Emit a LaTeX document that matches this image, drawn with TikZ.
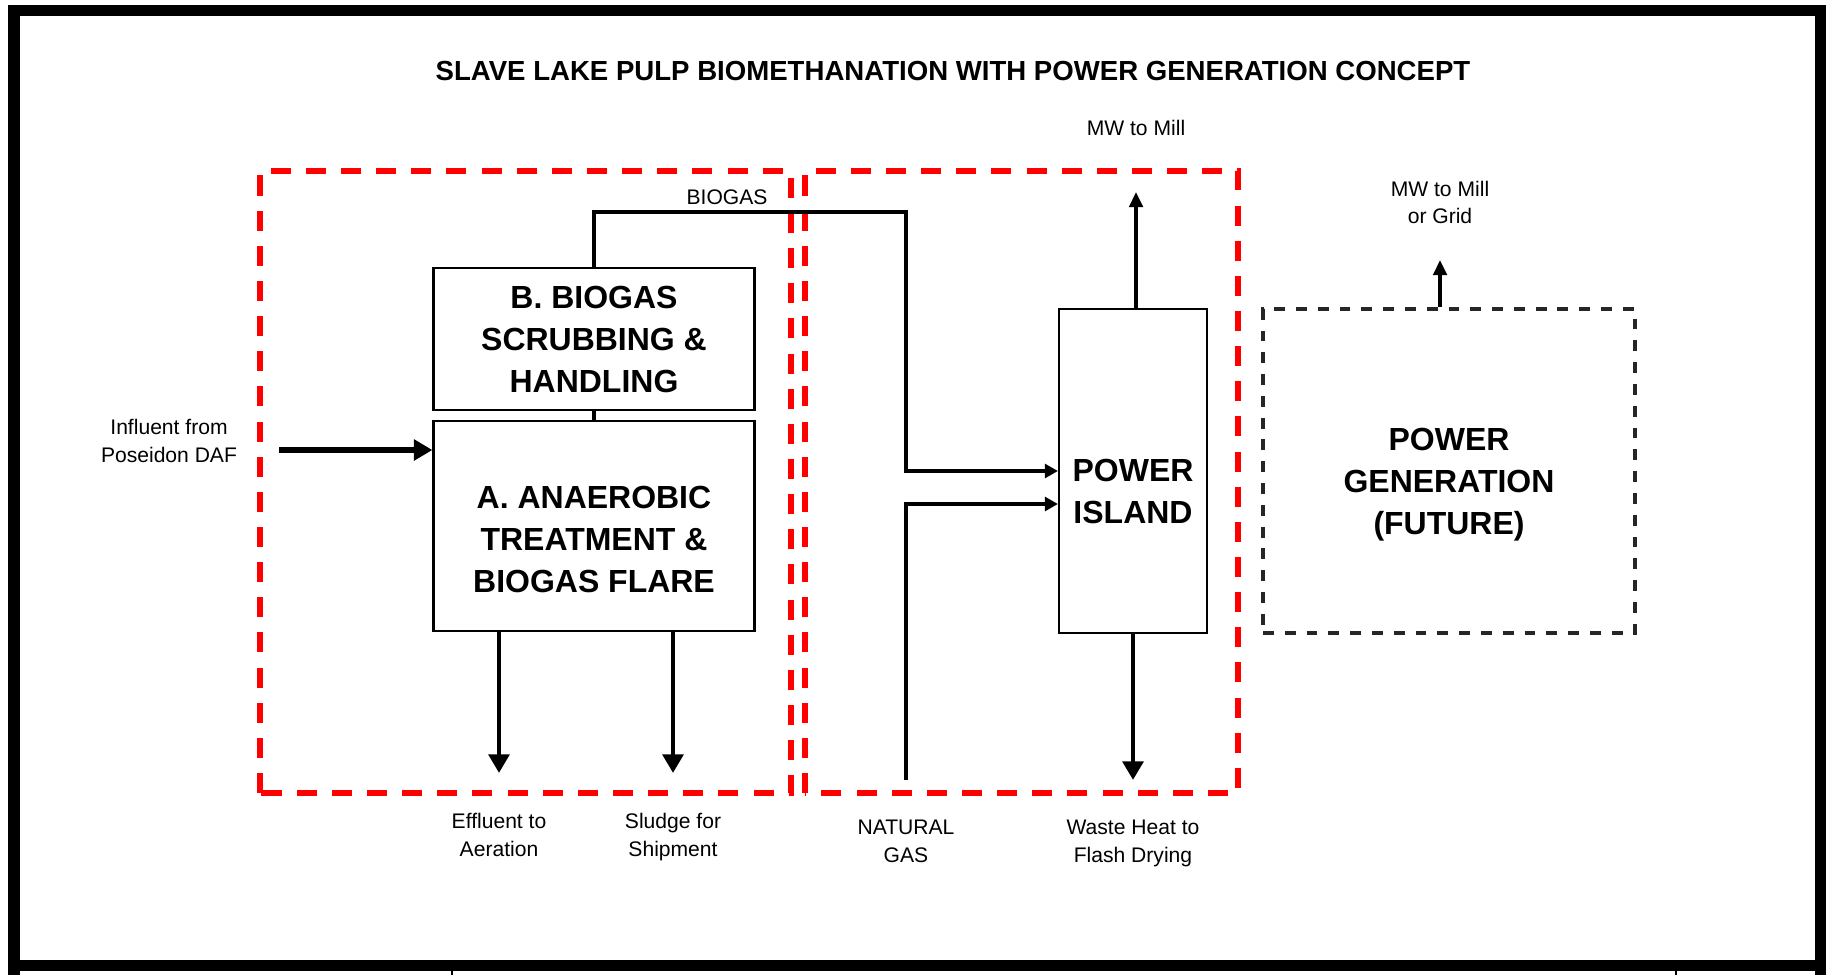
\documentclass[tikz,border=0pt]{standalone}
\usepackage{fontspec}
\setmainfont{Liberation Sans}
\usetikzlibrary{arrows.meta, positioning}

\begin{document}
\begin{tikzpicture}[
    >=Triangle, % Default arrow tip
    frame/.style={line width=0.11cm}, % Style for the sheet border
    zone/.style={red, line width=1.8pt, dash pattern=on 5.7pt off 4.3pt}, % Style for the red scope boundaries
    future/.style={draw=black!85, line width=1.3pt, dash pattern=on 3.1pt off 3.1pt, minimum width=3.72cm, minimum height=3.24cm}, % Style for the future box
    unit/.style={draw, line width=0.6pt, inner sep=0pt}, % Style for process blocks
    unittext/.style={align=center, font=\fontsize{9.1}{11.95}\selectfont\bfseries}, % Style for block texts
    lbl/.style={align=center, font=\fontsize{6}{7.8}\selectfont}, % Style for stream labels
    flow/.style={-{Triangle[length=5.3pt, width=5.8pt]}, line width=1.4pt}, % Style for main streams
    feed/.style={-{Triangle[length=3.7pt, width=3.9pt]}, line width=1.15pt}, % Style for gas feeds
    power/.style={-{Triangle[length=4.3pt, width=3.8pt]}, line width=1.3pt} % Style for power export
]
    \useasboundingbox (0,0) rectangle (18.27,9.75);

    % --- Sheet border ---
    \draw[frame] (0.14,0.095) rectangle (18.20,9.645);
    \draw[frame] (0.14,0.095) -- (0.14,0);
    \draw[frame] (18.20,0.095) -- (18.20,0);
    \draw[line width=0.6pt] (4.52,0.05) -- (4.52,0);
    \draw[line width=0.6pt] (16.76,0.05) -- (16.76,0);

    \node[font=\fontsize{7.85}{9}\selectfont\bfseries] (title) at (9.53,9.04)
        {SLAVE LAKE PULP BIOMETHANATION WITH POWER GENERATION CONCEPT};

    % --- Scope boundaries ---
    \draw[zone] (2.60,1.82) rectangle (7.91,8.04);
    \draw[zone] (8.05,1.82) rectangle (12.38,8.04);

    % --- Blocks ---
    \node[unit, minimum width=3.21cm, minimum height=1.42cm, unittext] (scrub) at (5.94,6.36)
        {B. BIOGAS\\SCRUBBING \&\\HANDLING};
    \node[unit, minimum width=3.21cm, minimum height=2.10cm] (anaer) at (5.94,4.49) {};
    \node[unittext] (anaertxt) at ([yshift=-0.13cm]anaer.center) {A. ANAEROBIC\\TREATMENT \&\\BIOGAS FLARE};

    \node[unit, minimum width=1.48cm, minimum height=3.24cm] (isl) at (11.33,5.04) {};
    \node[unittext] (isltxt) at ([yshift=-0.2cm]isl.center) {POWER\\ISLAND};

    \node[future] (fut) at (14.49,5.04) {};
    \node[unittext] (futtxt) at ([yshift=-0.14cm]fut.center) {POWER\\GENERATION\\(FUTURE)};

    % Free ends of the streams
    \coordinate (infl) at (2.79,5.25);
    \coordinate (effl) at (4.99,2.02);
    \coordinate (sldg) at (6.73,2.02);
    \coordinate (bgtop) at (9.06,7.63);
    \coordinate (ngin) at (9.06,1.95);
    \coordinate (waste) at (11.33,1.95);
    \coordinate (mw) at (11.36,7.83);
    \coordinate (grid) at (14.40,7.15);

    % --- Streams ---
    \draw[line width=1.15pt] (anaer.north) -- (scrub.south);
    \draw[flow, line width=1.7pt] (infl) -- (infl -| anaer.west);
    \draw[flow] (effl |- anaer.south) -- (effl);
    \draw[flow] (sldg |- anaer.south) -- (sldg);
    \draw[feed] (scrub.north) |- (bgtop) -- (bgtop |- isl.west) -- (isl.west);
    \draw[feed] (ngin) |- ([yshift=-0.33cm]isl.west);
    \draw[flow] (isl.south) -- (waste);
    \draw[power] (mw |- isl.north) -- (mw);
    \draw[power] (grid |- fut.north) -- (grid);

    % --- Labels ---
    \node[lbl] (bglbl) at (7.27,7.78) {BIOGAS};
    \node[lbl] (infltxt) at (1.69,5.34) {Influent from\\Poseidon DAF};
    \node[lbl, below=0.28cm of effl] (effltxt) {Effluent to\\Aeration};
    \node[lbl, below=0.28cm of sldg] (sldgtxt) {Sludge for\\Shipment};
    \node[lbl, below=0.28cm of ngin] (ngtxt) {NATURAL\\GAS};
    \node[lbl, below=0.28cm of waste] (wastetxt) {Waste Heat to\\Flash Drying};
    \node[lbl, above=0.44cm of mw] (mwtxt) {MW to Mill};
    \node[lbl, above=0.235cm of grid] (gridtxt) {MW to Mill\\or Grid};

\end{tikzpicture}
\end{document}
